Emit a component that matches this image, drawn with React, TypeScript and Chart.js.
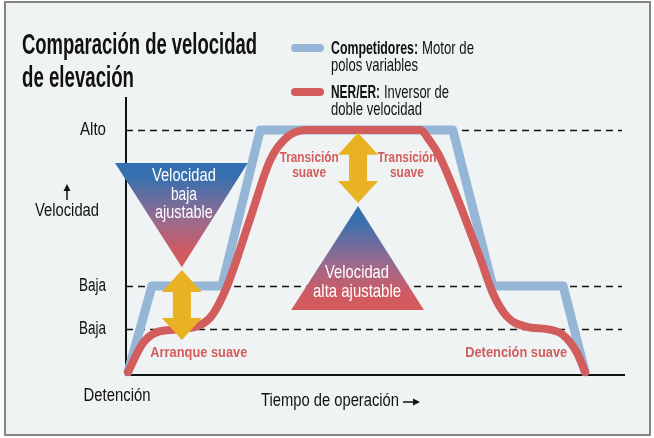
import React, { useEffect, useRef } from "react";
import { Chart, registerables } from "chart.js";
Chart.register(...registerables);

// ---- data (time units 0..100, speed units 0..100) ----
const blueX = [0.4, 5.2, 19.2, 26.9, 65.5, 73.5, 87.6, 92.0];
const blueY = [1.1, 32, 32, 88.1, 88.1, 32, 32, 1.1];
const redX = [0.4, 3.4, 6.4, 10.8, 16.8, 20.2, 24.8, 28.9, 32.3, 36.3, 58.9, 60.9, 62.9, 70.9, 73.5, 76.4, 80.4, 84.4, 87.6, 90.4, 92.0];
const redY = [1.1, 11.5, 15.5, 16.5, 20.5, 31.7, 55.8, 77.3, 85.6, 88.1, 88.1, 84.2, 78.4, 42.4, 29.5, 20.9, 17.3, 16.5, 14.4, 7.9, 1.1];
const tickValues = [88.1, 32, 16.5];
const tickLabels = ["Alto", "Baja", "Baja"];
const seriesNames = ["Competidores:", "NER/ER:"];
const seriesDesc = [["Motor de", "polos variables"], ["Inversor de", "doble velocidad"]];
const titleLines = ["Comparación de velocidad", "de elevación"];

const BLUE = "#95b6d6";
const RED = "#d35c5c";
const GOLD = "#e8b223";
const BG = "#eff3f4";
const FONT = '"Liberation Sans", Arial, sans-serif';
const COND = 0.86;

function txt(ctx: CanvasRenderingContext2D, s: string, x: number, y: number, font: string, color: string, align: CanvasTextAlign = "left", w?: number) {
  ctx.font = font;
  ctx.fillStyle = color;
  ctx.textAlign = align;
  ctx.textBaseline = "middle";
  const nat = ctx.measureText(s).width;
  const target = w ?? nat * COND;
  ctx.fillText(s, x, y, target);
  return Math.min(nat, target);
}

function dblArrow(ctx: CanvasRenderingContext2D, cx: number, top: number, bot: number) {
  const hw = 20, hh = 22, sw = 9;
  ctx.beginPath();
  ctx.moveTo(cx, top);
  ctx.lineTo(cx + hw, top + hh);
  ctx.lineTo(cx + sw, top + hh);
  ctx.lineTo(cx + sw, bot - hh);
  ctx.lineTo(cx + hw, bot - hh);
  ctx.lineTo(cx, bot);
  ctx.lineTo(cx - hw, bot - hh);
  ctx.lineTo(cx - sw, bot - hh);
  ctx.lineTo(cx - sw, top + hh);
  ctx.lineTo(cx - hw, top + hh);
  ctx.closePath();
  ctx.fillStyle = GOLD;
  ctx.fill();
}

function tri(ctx: CanvasRenderingContext2D, pts: number[][], yTop: number, yBot: number) {
  const g = ctx.createLinearGradient(0, yTop, 0, yBot);
  g.addColorStop(0, "#2f6fb0");
  g.addColorStop(0.15, "#3a70ae");
  g.addColorStop(0.55, "#9a6a8e");
  g.addColorStop(0.85, "#d05a62");
  g.addColorStop(1, "#d55a5a");
  ctx.beginPath();
  ctx.moveTo(pts[0][0], pts[0][1]);
  ctx.lineTo(pts[1][0], pts[1][1]);
  ctx.lineTo(pts[2][0], pts[2][1]);
  ctx.closePath();
  ctx.fillStyle = g;
  ctx.fill();
}

const decor = {
  id: "decor",
  beforeDraw(chart: any) {
    const ctx = chart.ctx as CanvasRenderingContext2D;
    const W = chart.width, H = chart.height;
    ctx.save();
    ctx.fillStyle = "#ffffff";
    ctx.fillRect(0, 0, W, H);
    ctx.fillStyle = BG;
    ctx.fillRect(5, 2, W - 9, H - 5);
    ctx.strokeStyle = "#848484";
    ctx.lineWidth = 2;
    ctx.strokeRect(5, 2, W - 9, H - 5);
    // title
    txt(ctx, titleLines[0], 22, 46, "bold 29px " + FONT, "#111", "left", 235);
    txt(ctx, titleLines[1], 22, 79, "bold 29px " + FONT, "#111", "left", 112);
    // legend
    const colors = [BLUE, RED];
    const ys = [48, 92];
    const bws = [87, 49];
    const d0w = [52, 65];
    const d1w = [87, 91];
    for (let i = 0; i < 2; i++) {
      ctx.strokeStyle = colors[i];
      ctx.lineWidth = 8;
      ctx.lineCap = "round";
      ctx.beginPath();
      ctx.moveTo(295, ys[i]);
      ctx.lineTo(320, ys[i]);
      ctx.stroke();
      txt(ctx, seriesNames[i], 331, ys[i] + 1, "bold 19px " + FONT, "#111", "left", bws[i]);
      txt(ctx, seriesDesc[i][0], 331 + bws[i] + 4, ys[i] + 1, "19px " + FONT, "#111", "left", d0w[i]);
      txt(ctx, seriesDesc[i][1], 331, ys[i] + 18, "19px " + FONT, "#111", "left", d1w[i]);
    }
    // y axis title with arrow
    txt(ctx, "Velocidad", 67, 211, "18px " + FONT, "#111", "center", 64);
    ctx.strokeStyle = "#111";
    ctx.lineWidth = 1.5;
    ctx.lineCap = "butt";
    ctx.beginPath();
    ctx.moveTo(67, 200);
    ctx.lineTo(67, 189);
    ctx.stroke();
    ctx.fillStyle = "#111";
    ctx.beginPath();
    ctx.moveTo(67, 184);
    ctx.lineTo(70.5, 191);
    ctx.lineTo(63.5, 191);
    ctx.closePath();
    ctx.fill();
    // x labels
    txt(ctx, "Detención", 117, 396, "18px " + FONT, "#111", "center", 67);
    txt(ctx, "Tiempo de operación", 261, 401, "18px " + FONT, "#111", "left", 138);
    const ax0 = 403, ax1 = 420;
    ctx.beginPath();
    ctx.moveTo(ax0, 402);
    ctx.lineTo(ax1 - 5, 402);
    ctx.stroke();
    ctx.beginPath();
    ctx.moveTo(ax1, 402);
    ctx.lineTo(ax1 - 7, 398.5);
    ctx.lineTo(ax1 - 7, 405.5);
    ctx.closePath();
    ctx.fill();
    ctx.restore();
  },
  beforeDatasetsDraw(chart: any) {
    const ctx = chart.ctx as CanvasRenderingContext2D;
    const { left, right, top, bottom } = chart.chartArea;
    const y = chart.scales.y;
    ctx.save();
    ctx.strokeStyle = "#111";
    ctx.lineWidth = 1.3;
    ctx.setLineDash([7, 5]);
    tickValues.forEach((v, i) => {
      const py = Math.round(y.getPixelForValue(v)) + 0.5;
      ctx.beginPath();
      ctx.moveTo(left, py);
      ctx.lineTo(right - 3, py);
      ctx.stroke();
      txt(ctx, tickLabels[i], 106, py, "18px " + FONT, "#111", "right", tickLabels[i] === "Alto" ? 26 : 27);
    });
    ctx.setLineDash([]);
    ctx.lineWidth = 2;
    ctx.beginPath();
    ctx.moveTo(left, top);
    ctx.lineTo(left, bottom);
    ctx.lineTo(right, bottom);
    ctx.stroke();
    ctx.restore();
  },
  afterDatasetsDraw(chart: any) {
    const ctx = chart.ctx as CanvasRenderingContext2D;
    const xs = chart.scales.x, ys = chart.scales.y;
    const X = (v: number) => xs.getPixelForValue(v);
    const Y = (v: number) => ys.getPixelForValue(v);
    ctx.save();
    // down triangle (baja ajustable)
    tri(ctx, [[X(-2.2), Y(76.3)], [X(24.4), Y(76.3)], [X(11.2), Y(38.8)]], Y(76.3), Y(38.8));
    // up triangle (alta ajustable)
    tri(ctx, [[X(46.5), Y(60.8)], [X(59.7), Y(23.4)], [X(33.1), Y(23.4)]], Y(60.8), Y(23.4));
    dblArrow(ctx, X(11.2), Y(37.8), Y(12.6));
    dblArrow(ctx, X(46.5), Y(87.1), Y(61.9));
    const wf = "19px " + FONT;
    txt(ctx, "Velocidad", X(11.6), Y(71.6), wf, "#fff", "center", 64);
    txt(ctx, "baja", X(11.6), Y(65.0), wf, "#fff", "center", 26);
    txt(ctx, "ajustable", X(11.6), Y(58.3), wf, "#fff", "center", 58);
    txt(ctx, "Velocidad", X(46.3), Y(36.7), wf, "#fff", "center", 64);
    txt(ctx, "alta ajustable", X(46.3), Y(29.9), wf, "#fff", "center", 88);
    const rf = "bold 15px " + FONT;
    txt(ctx, "Transición", X(36.7), Y(78.1), rf, RED, "center", 59);
    txt(ctx, "suave", X(36.7), Y(72.7), rf, RED, "center", 34);
    txt(ctx, "Transición", X(56.3), Y(78.1), rf, RED, "center", 59);
    txt(ctx, "suave", X(56.3), Y(72.7), rf, RED, "center", 34);
    txt(ctx, "Arranque suave", X(14.6), Y(7.9), rf, RED, "center", 97);
    txt(ctx, "Detención suave", X(78.2), Y(7.9), rf, RED, "center", 102);
    ctx.restore();
  },
};

export default function App() {
  const ref = useRef<HTMLCanvasElement>(null);
  useEffect(() => {
    if (!ref.current) return;
    const chart = new Chart(ref.current, {
      type: "line",
      data: {
        datasets: [
          {
            label: "NER/ER",
            data: redX.map((x, i) => ({ x, y: redY[i] })),
            borderColor: RED,
            borderWidth: 8,
            cubicInterpolationMode: "monotone",
            pointRadius: 0,
            borderCapStyle: "round",
            borderJoinStyle: "round",
            clip: false,
            order: 0,
          } as any,
          {
            label: "Competidores",
            data: blueX.map((x, i) => ({ x, y: blueY[i] })),
            borderColor: BLUE,
            borderWidth: 9,
            tension: 0,
            pointRadius: 0,
            borderCapStyle: "round",
            borderJoinStyle: "round",
            clip: false,
            order: 1,
          } as any,
        ],
      },
      options: {
        animation: false,
        responsive: false,
        layout: { padding: { left: 126, top: 97, right: 29, bottom: 63 } },
        scales: {
          x: { type: "linear", min: 0, max: 100, display: false },
          y: { type: "linear", min: 0, max: 100, display: false },
        },
        plugins: { legend: { display: false }, tooltip: { enabled: false } },
      },
      plugins: [decor],
    });
    return () => chart.destroy();
  }, []);
  return (
    <div style={{ position: "absolute", left: 0, top: 0, width: 654, height: 438 }}>
      <canvas ref={ref} width={654} height={438} style={{ width: 654, height: 438, display: "block" }} />
    </div>
  );
}
